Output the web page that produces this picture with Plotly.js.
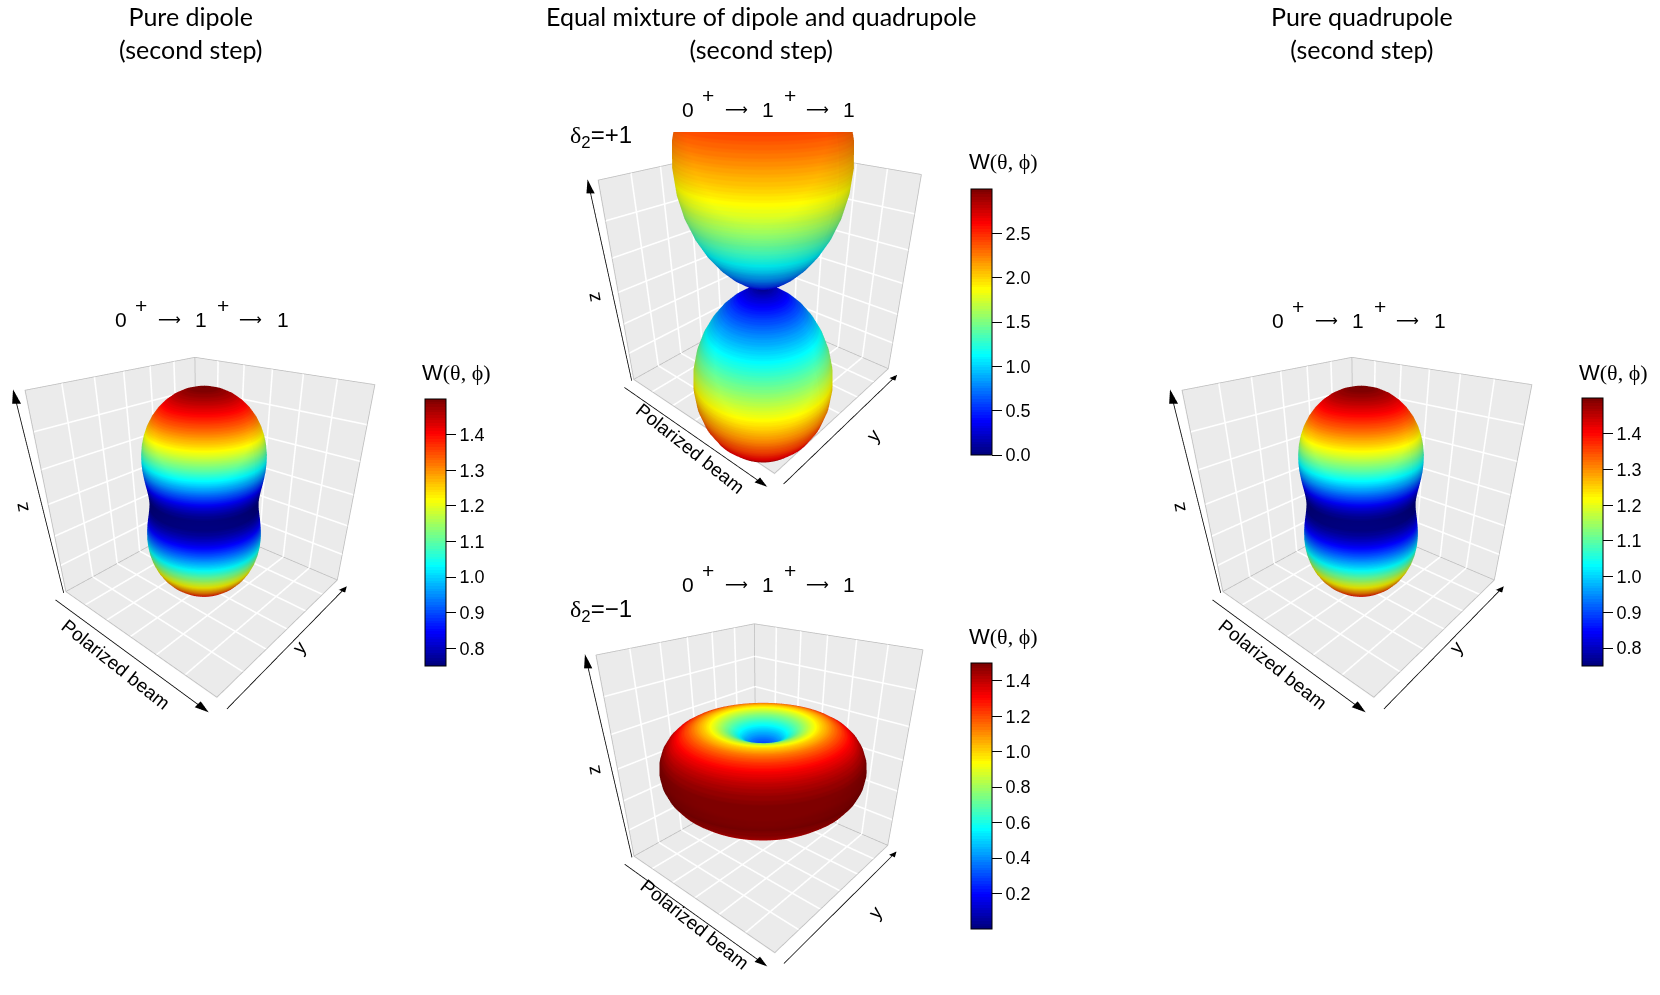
<!DOCTYPE html>
<html><head><meta charset="utf-8">
<script src="https://cdn.plot.ly/plotly-3.0.1.min.js"></script>
<style>html,body{margin:0;padding:0;background:#fff;}#chart{width:1660px;height:995px;}</style>
</head><body><div id="chart"></div>
<script>
// ---------- data ----------
const thetaDeg = [0,5,10,15,20,25,30,35,40,45,50,55,60,65,70,75,80,85,90,95,100,105,110,115,120,125,130,135,140,145,150,155,160,165,170,175,180];
const phiDeg = [0,5,10,15,20,25,30,35,40,45,50,55,60,65,70,75,80,85,90,95,100,105,110,115,120,125,130,135,140,145,150,155,160,165,170,175,180,185,190,195,200,205,210,215,220,225,230,235,240,245,250,255,260,265,270,275,280,285,290,295,300,305,310,315,320,325,330,335,340,345,350,355,360];
const wDipole = [1.500,1.494,1.477,1.450,1.412,1.366,1.313,1.253,1.190,1.125,1.060,0.997,0.938,0.884,0.838,0.800,0.773,0.756,0.750,0.756,0.773,0.800,0.838,0.884,0.938,0.997,1.060,1.125,1.190,1.253,1.313,1.366,1.412,1.450,1.477,1.494,1.500];
const wQuadrupole = [1.500,1.494,1.477,1.450,1.412,1.366,1.313,1.253,1.190,1.125,1.060,0.997,0.938,0.884,0.838,0.800,0.773,0.756,0.750,0.756,0.773,0.800,0.838,0.884,0.938,0.997,1.060,1.125,1.190,1.253,1.313,1.366,1.412,1.450,1.477,1.494,1.500];
const wMixPlus = [3.000,2.977,2.910,2.799,2.649,2.464,2.250,2.013,1.760,1.500,1.240,0.987,0.750,0.536,0.351,0.201,0.090,0.023,0.000,0.023,0.090,0.201,0.351,0.536,0.750,0.987,1.240,1.500,1.760,2.013,2.250,2.464,2.649,2.799,2.910,2.977,3.000];
const wMixMinus = [0.000,0.011,0.045,0.100,0.175,0.268,0.375,0.493,0.620,0.750,0.880,1.007,1.125,1.232,1.325,1.400,1.455,1.489,1.500,1.489,1.455,1.400,1.325,1.232,1.125,1.007,0.880,0.750,0.620,0.493,0.375,0.268,0.175,0.100,0.045,0.011,0.000];
const cbRangeDipole = [0.75, 1.5];
const cbRangeMixPlus = [0, 3];
const cbRangeMixMinus = [0, 1.5];
const ticksDipole = [0.8,0.9,1.0,1.1,1.2,1.3,1.4];
const ticksMixPlus = [0,0.5,1.0,1.5,2.0,2.5];
const ticksMixMinus = [0.2,0.4,0.6,0.8,1.0,1.2,1.4];
const panelTitles = ['Pure dipole<br>(second step)','Equal mixture of dipole and quadrupole<br>(second step)','Pure quadrupole<br>(second step)'];
const transitionGlyphs = ['0','+','\u27f6','1','+','\u27f6','1'];
const deltaLabels = ['<span style="font-family:Liberation Serif">\u03b4</span><sub>2</sub>=+1','<span style="font-family:Liberation Serif">\u03b4</span><sub>2</sub>=\u22121'];
const cbTitle = 'W<span style="font-family:Liberation Serif">(\u03b8, \u03d5)</span>';
const axisNames = ['Polarized beam','y','z'];

// ---------- styling ----------
const W = 1660, H = 995;
const PANEL = '#ebebeb';
const NCELL = 6;
const jetAnchors = ['#00007F','#0000FF','#007FFF','#00FFFF','#7FFF7F','#FFFF00','#FF7F00','#FF0000','#7F0000'];
const NCOL = 100;
function hex2rgb(h){return [parseInt(h.slice(1,3),16),parseInt(h.slice(3,5),16),parseInt(h.slice(5,7),16)];}
function jetAt(t){
  const n=jetAnchors.length-1, p=Math.min(n-1e-9,Math.max(0,t*n)), i=Math.floor(p), f=p-i;
  const a=hex2rgb(jetAnchors[i]), b=hex2rgb(jetAnchors[i+1]);
  return 'rgb('+a.map((v,k)=>Math.round(v+(b[k]-v)*f)).join(',')+')';
}
const jet=[];
for(let i=0;i<NCOL;i++){const c=jetAt(i/(NCOL-1)); jet.push([i/NCOL,c],[(i+1)/NCOL,c]);}
const SANS = 'Liberation Sans, Arial, sans-serif';
const glyphDx = [6, 26, 54, 86, 107.5, 135, 167.5];
const glyphUp = [0, 1, 0, 0, 1, 0, 0];

const E1 = {x:0.7287,y:-0.8382,z:0.5466}, C1 = {x:0,y:0,z:-0.1287};
const E2 = {x:0.7761,y:-0.8927,z:0.5905}, C2 = {x:0,y:0,z:-0.135};

const scenes = [
  {id:'scene',  shapeId:'scene',  w:wDipole,     rng:cbRangeDipole,   ticks:ticksDipole,   B:1.5, Bz:1.5, L:2.5, Lz:2.5, asp:1,     aspz:1,    eye:E1, center:C1, dom:[8,400,354,724],     cb:[425,399,666], lab:[115,319]},
  {id:'scene2', shapeId:'scene5', w:wMixPlus,    rng:cbRangeMixPlus,  ticks:ticksMixPlus,  B:1.5, Bz:1.5, L:2.5, Lz:3.2, asp:0.935, aspz:1.28, eye:E2, center:C2, dom:[567,959,132,526],   cb:[971,189,455], lab:[682,109.5]},
  {id:'scene3', shapeId:'scene3', w:wMixMinus,   rng:cbRangeMixMinus, ticks:ticksMixMinus, B:1.5, Bz:1.5, L:2.5, Lz:2.5, asp:0.935, aspz:1,    eye:E1, center:C1, dom:[567,959,619,989],   cb:[971,663,929], lab:[682,584.5]},
  {id:'scene4', shapeId:'scene4', w:wQuadrupole, rng:cbRangeDipole,   ticks:ticksDipole,   B:1.5, Bz:1.5, L:2.5, Lz:2.5, asp:1,     aspz:1,    eye:E1, center:C1, dom:[1165,1557,354,724], cb:[1582,398,666], lab:[1272,320]}
];

function sphereSurface(w){
  const X=[],Y=[],Z=[],C=[];
  thetaDeg.forEach((t,i)=>{
    const th=t*Math.PI/180, r=w[i];
    const rx=[],ry=[],rz=[],rc=[];
    phiDeg.forEach(p=>{
      const ph=p*Math.PI/180;
      rx.push(r*Math.sin(th)*Math.cos(ph));
      ry.push(r*Math.sin(th)*Math.sin(ph));
      rz.push(r*Math.cos(th));
      rc.push(r);
    });
    X.push(rx);Y.push(ry);Z.push(rz);C.push(rc);
  });
  return {X,Y,Z,C};
}

const mk=()=>({x:[],y:[],z:[]});
const seg=(g,a,b)=>{g.x.push(a[0],b[0],null);g.y.push(a[1],b[1],null);g.z.push(a[2],b[2],null);};
const line=(sid,g,c,wd)=>({type:'scatter3d',scene:sid,mode:'lines',x:g.x,y:g.y,z:g.z,line:{color:c,width:wd},hoverinfo:'skip',showlegend:false,connectgaps:false});

function boxTraces(sc){
  const B=sc.B, Bz=sc.Bz, e=0.012*B, ez=0.012*Bz;
  const xw=-B+e, yw=B-e, zf=-Bz+ez;
  const flat=[[0.5,0.5],[0.5,0.5]];
  const wallBase = {type:'surface', scene:sc.id, showscale:false, colorscale:[[0,PANEL],[1,PANEL]], cmin:0, cmax:1,
    surfacecolor:flat, hoverinfo:'skip', lighting:{ambient:1,diffuse:0,specular:0,fresnel:0,roughness:1}};
  const walls = [
    {x:[[-B,-B],[-B,-B]], y:[[-B,B],[-B,B]], z:[[-Bz,-Bz],[Bz,Bz]]},
    {x:[[-B,B],[-B,B]],   y:[[B,B],[B,B]],   z:[[-Bz,-Bz],[Bz,Bz]]},
    {x:[[-B,B],[-B,B]],   y:[[-B,-B],[B,B]], z:[[-Bz,-Bz],[-Bz,-Bz]]}
  ].map(o=>Object.assign({}, wallBase, o));
  const grid=mk(), edge=mk();
  for(let i=1;i<NCELL;i++){
    const t=-B+i*2*B/NCELL, s=-Bz+i*2*Bz/NCELL;
    seg(grid,[xw,t,zf],[xw,t,Bz]); seg(grid,[xw,-B,s],[xw,yw,s]);
    seg(grid,[t,yw,zf],[t,yw,Bz]); seg(grid,[xw,yw,s],[B,yw,s]);
    seg(grid,[t,-B,zf],[t,yw,zf]); seg(grid,[xw,t,zf],[B,t,zf]);
  }
  seg(edge,[xw,-B,zf],[xw,-B,Bz]); seg(edge,[xw,-B,Bz],[xw,yw,Bz]); seg(edge,[xw,yw,Bz],[xw,yw,zf]); seg(edge,[xw,-B,zf],[xw,yw,zf]);
  seg(edge,[xw,yw,Bz],[B,yw,Bz]); seg(edge,[B,yw,Bz],[B,yw,zf]); seg(edge,[xw,yw,zf],[B,yw,zf]);
  seg(edge,[xw,-B,zf],[B,-B,zf]); seg(edge,[B,-B,zf],[B,yw,zf]);
  return walls.concat([line(sc.id,grid,'#ffffff',3.2), line(sc.id,edge,'#bdbdbd',1.5)]);
}

function arrowTraces(sc){
  const B=sc.B, Bz=sc.Bz, sid=sc.shapeId;
  const arr=mk();
  const hl=0.11*B, hw=0.035*B, hlz=0.11*Bz;
  const yo=-1.12*B, zo=-1.03*Bz, tx=1.02*B;
  const xo=1.10*B, zo2=-1.04*Bz, ty=1.02*B;
  const zb=[-1.0*B,-1.02*B,-Bz], zt=[-1.0*B,-1.09*B,1.02*Bz];
  seg(arr,[-B,yo,zo],[tx-hl,yo,zo]);
  seg(arr,[xo,-B,zo2],[xo,ty-hl,zo2]);
  const f=1-hlz/(zt[2]-zb[2]);
  const zbase=[zb[0]+(zt[0]-zb[0])*f, zb[1]+(zt[1]-zb[1])*f, zb[2]+(zt[2]-zb[2])*f];
  seg(arr,zb,zbase);
  const hx=[tx,tx-hl,tx-hl, xo,xo-hw,xo+hw, zt[0],zbase[0]-hw*0.755,zbase[0]+hw*0.755];
  const hy=[yo,yo-hw,yo+hw, ty,ty-hl,ty-hl, zt[1],zbase[1]-hw*0.656,zbase[1]+hw*0.656];
  const hz=[zo,zo,zo, zo2,zo2,zo2, zt[2],zbase[2],zbase[2]];
  return [line(sid,arr,'#000000',1.6),
    {type:'mesh3d',scene:sid,x:hx,y:hy,z:hz,i:[0,3,6],j:[1,4,7],k:[2,5,8],color:'#000000',flatshading:true,
     lighting:{ambient:1,diffuse:0,specular:0,fresnel:0,roughness:1},hoverinfo:'skip',showscale:false}];
}

const traces=[];
const layout={width:W,height:H,margin:{l:0,r:0,t:0,b:0},paper_bgcolor:'#ffffff',plot_bgcolor:'#ffffff',showlegend:false,hovermode:false,annotations:[]};
const axisOff=r=>({visible:false,range:r,autorange:false,showspikes:false,showgrid:false,zeroline:false,showline:false,showticklabels:false,showbackground:false,title:{text:''}});
const sceneLayout=sc=>{
  const d=sc.dom;
  return {domain:{x:[d[0]/W,d[1]/W],y:[1-d[3]/H,1-d[2]/H]},
    xaxis:axisOff([-sc.L,sc.L]),yaxis:axisOff([-sc.L,sc.L]),zaxis:axisOff([-sc.Lz,sc.Lz]),
    aspectmode:'manual',aspectratio:{x:sc.asp,y:sc.asp,z:sc.aspz},
    camera:{eye:sc.eye,center:sc.center,up:{x:0,y:0,z:1},projection:{type:'perspective'}},
    bgcolor:'rgba(0,0,0,0)',dragmode:false};
};

const A=(text,x,y,opt)=>Object.assign({text:text,x:x/W,y:1-y/H,xref:'paper',yref:'paper',showarrow:false,xanchor:'center',yanchor:'middle',font:{family:SANS,size:19,color:'#000000'}},opt||{});

const shapeTraces=[];
scenes.forEach(sc=>{
  boxTraces(sc).forEach(t=>traces.push(t));
  const s=sphereSurface(sc.w);
  const surf={type:'surface',scene:sc.shapeId,x:s.X,y:s.Y,z:s.Z,surfacecolor:s.C,colorscale:jet,cmin:sc.rng[0],cmax:sc.rng[1],
    hoverinfo:'skip',
    lighting:{ambient:0.78,diffuse:0.32,specular:0.0,roughness:1,fresnel:0},
    lightposition:{x:65000,y:-75000,z:-30000},
    colorbar:{x:sc.cb[0]/W,xanchor:'left',xpad:0,y:1-sc.cb[1]/H,yanchor:'top',ypad:0,len:(sc.cb[2]-sc.cb[1])/H,lenmode:'fraction',
      thickness:21,thicknessmode:'pixels',outlinecolor:'#000000',outlinewidth:1,ticks:'outside',ticklen:10,tickwidth:1,tickcolor:'#000000',
      tickmode:'array',tickvals:sc.ticks,tickformat:'.1f',tickprefix:'\u00a0\u00a0\u00a0\u00a0',tickfont:{family:SANS,size:18,color:'#000000'},title:{text:''}}
  };
  const arrows=arrowTraces(sc);
  if(sc.shapeId===sc.id){ arrows.forEach(t=>traces.push(t)); traces.push(surf); }
  else { arrows.forEach(t=>shapeTraces.push(t)); shapeTraces.push(surf); }
  layout[sc.id]=sceneLayout(sc);
  if(sc.shapeId!==sc.id) layout[sc.shapeId]=sceneLayout(sc);
  transitionGlyphs.forEach((g,i)=>{
    const isArrow = g==='\u27f6';
    const font = isArrow ? {family:'DejaVu Sans',size:16,color:'#000000'} : {family:SANS,size:21,color:'#000000'};
    layout.annotations.push(A(g, sc.lab[0]+glyphDx[i], sc.lab[1]-(glyphUp[i]?14:0), {font:font}));
  });
});
shapeTraces.forEach(t=>traces.push(t));

const TF={family:'Lato, Open Sans, sans-serif',size:25,color:'#000000'};
const LF={family:SANS,size:22,color:'#000000'};
layout.annotations.push(
  A(panelTitles[0],190,33,{font:TF}),
  A(panelTitles[1],761,33,{font:TF}),
  A(panelTitles[2],1362,33,{font:TF}),
  A(deltaLabels[0],568,136,{xanchor:'left',font:{family:SANS,size:24,color:'#000000'}}),
  A(deltaLabels[1],568,610,{xanchor:'left',font:{family:SANS,size:24,color:'#000000'}}),
  A(cbTitle,420,372,{xanchor:'left',font:LF}),
  A(cbTitle,967,162,{xanchor:'left',font:LF}),
  A(cbTitle,967,636,{xanchor:'left',font:LF}),
  A(cbTitle,1577,372,{xanchor:'left',font:LF}),
  A(axisNames[0],116,664,{textangle:38.5}), A(axisNames[1],299,647,{textangle:-50}), A(axisNames[2],21,507,{textangle:-100}),
  A(axisNames[0],690,449,{textangle:38.5}), A(axisNames[1],873,435,{textangle:-50}), A(axisNames[2],593,297,{textangle:-100}),
  A(axisNames[0],695,924,{textangle:38.5}), A(axisNames[1],875,912,{textangle:-50}), A(axisNames[2],593,770,{textangle:-100}),
  A(axisNames[0],1273,664,{textangle:38.5}), A(axisNames[1],1456,647,{textangle:-50}), A(axisNames[2],1178,507,{textangle:-100})
);

Plotly.newPlot('chart',traces,layout,{displayModeBar:false,responsive:false});
</script></body></html>
